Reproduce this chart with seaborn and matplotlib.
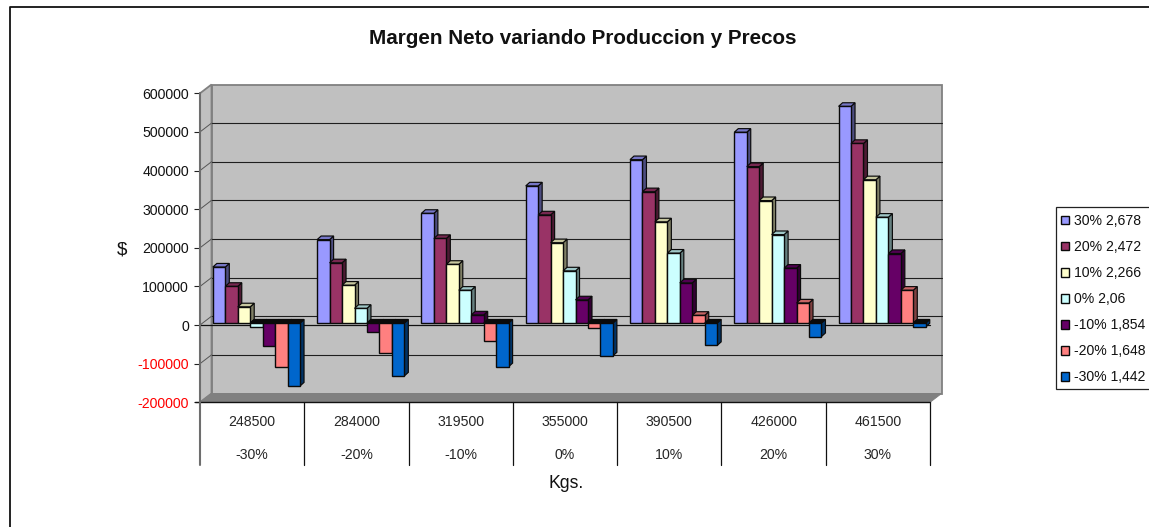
import matplotlib
matplotlib.use("Agg")
import matplotlib.pyplot as plt
from matplotlib.colors import to_rgb
from matplotlib.patches import Polygon, Rectangle
from matplotlib.lines import Line2D
import pandas as pd
import seaborn as sns

kgs = ["248500", "284000", "319500", "355000", "390500", "426000", "461500"]
prod_pct = ["-30%", "-20%", "-10%", "0%", "10%", "20%", "30%"]
precios = ["30% 2,678", "20% 2,472", "10% 2,266", "0% 2,06", "-10% 1,854", "-20% 1,648", "-30% 1,442"]

precio_p30 = [145000, 216000, 284000, 355000, 423000, 494000, 561000]
precio_p20 = [95000, 156000, 219000, 280000, 340000, 405000, 465000]
precio_p10 = [42000, 98000, 152000, 208000, 262000, 317000, 371000]
precio_0 = [-10000, 38000, 85000, 135000, 181000, 229000, 274000]
precio_m10 = [-60000, -22000, 21000, 60000, 104000, 142000, 180000]
precio_m20 = [-113000, -78000, -46000, -14000, 20000, 52000, 85000]
precio_m30 = [-163000, -137000, -113000, -85000, -58000, -35000, -10000]
series = [precio_p30, precio_p20, precio_p10, precio_0, precio_m10, precio_m20, precio_m30]

colores = ["#9999FF", "#993366", "#FFFFCC", "#CCFFFF", "#660066", "#FF8080", "#0066CC"]
y_ticks = [-200000, -100000, 0, 100000, 200000, 300000, 400000, 500000, 600000]

W, H = 1149, 527
sns.set_theme(style="white")
plt.rcParams["font.family"] = ["Liberation Sans", "DejaVu Sans"]
plt.rcParams["text.color"] = "#111111"

fig = plt.figure(figsize=(W / 100, H / 100), dpi=100, facecolor="white")


def P(x, y):
    """Pixel position (origin top-left) to figure fraction."""
    return (x / W, 1 - y / H)


def axes_px(left, top, right, bottom):
    return fig.add_axes([left / W, 1 - bottom / H, (right - left) / W, (bottom - top) / H])


# front plane of the 3-D box
L, R, T, B = 200.0, 930.0, 93.3, 402.3
WALL_DX, WALL_DY = 11.5, 8.8      # depth of the box
BAR_DX, BAR_DY = 4.3, 2.0         # bars stand a little inside the box
FACE_DX, FACE_DY = 4.0, 3.6       # depth of each bar

ax = axes_px(L, T, R, B)
ax.patch.set_visible(False)
ax.set_xlim(-0.5, 6.5)
ax.set_ylim(-200000, 600000)
y_px = lambda v: B - (v + 200000) / 800000 * (B - T)


def poly(pts, **kw):
    ax.add_patch(Polygon([P(*p) for p in pts], closed=True, transform=fig.transFigure,
                         clip_on=False, **kw))


def line(xs, ys, **kw):
    ax.add_line(Line2D([x / W for x in xs], [1 - y / H for y in ys], transform=fig.transFigure,
                       clip_on=False, **kw))


# outer frame: only top and left edges fall inside the canvas
line([9.5, 9.5, W], [H, 6.8, 6.8], color="#111111", lw=1.3, zorder=1)

# back wall, side wall and floor
poly([(L + WALL_DX, T - WALL_DY), (R + WALL_DX, T - WALL_DY), (R + WALL_DX, B - WALL_DY),
      (L + WALL_DX, B - WALL_DY)], fc="#C0C0C0", ec="#808080", lw=1.3, zorder=0.5)
poly([(L, T), (L + WALL_DX, T - WALL_DY), (L + WALL_DX, B - WALL_DY), (L, B)],
     fc="#C0C0C0", ec="#808080", lw=1.3, zorder=0.5)
poly([(L, B), (L + WALL_DX, B - WALL_DY), (R + WALL_DX, B - WALL_DY), (R, B)],
     fc="#808080", ec="#808080", lw=0.7, zorder=0.6)

# gridlines run across both walls
for v in y_ticks[1:-1]:
    y = y_px(v)
    line([L + WALL_DX, R + WALL_DX], [y - WALL_DY, y - WALL_DY], color="#1E1E1E", lw=0.8, zorder=0.7)
    line([L, L + WALL_DX], [y, y - WALL_DY], color="#555555", lw=0.7, zorder=0.7)

# zero line, base line and the two-row category table
line([L, R], [y_px(0), y_px(0)], color="#111111", lw=0.9, zorder=0.8)
line([L - 5, R], [B, B], color="#111111", lw=1.0, zorder=0.8)
line([L, L], [T, 465], color="#6E6E6E", lw=1.5, zorder=0.9)
for i in range(1, 8):
    x = L + (R - L) * i / 7
    line([x, x], [B, 465], color="#111111", lw=0.9, zorder=0.8)

# value axis
ax.set_yticks(y_ticks)
ax.set_yticklabels([str(v) for v in y_ticks], fontsize=10.2)
ax.tick_params(axis="y", length=4, width=0.8, color="#222222", pad=4, left=True)
for lbl, v in zip(ax.get_yticklabels(), y_ticks):
    lbl.set_color("#FF0000" if v < 0 else "#111111")
ax.set_xticks(range(7))
ax.set_xticklabels([f"{k}\n{p}" for k, p in zip(kgs, prod_pct)], fontsize=10.2, linespacing=2.68)
ax.tick_params(axis="x", length=0, pad=9.2)
for s in ax.spines.values():
    s.set_visible(False)

# the bars
df = pd.DataFrame({
    "Kgs": kgs * len(precios),
    "Precio": [p for p in precios for _ in kgs],
    "Margen": [v for s in series for v in s],
})
ax_b = axes_px(L + BAR_DX, T - BAR_DY, R + BAR_DX, B - BAR_DY)
ax_b.patch.set_visible(False)
sns.barplot(data=df, x="Kgs", y="Margen", hue="Precio", order=kgs, hue_order=precios,
            palette=colores, width=0.836, gap=0, saturation=1, errorbar=None,
            edgecolor="#0A0A0A", linewidth=1.0, ax=ax_b, legend=True)
ax_b.set_xlim(-0.5, 6.5)
ax_b.set_ylim(-200000, 600000)
ax_b.set_axis_off()

dx = FACE_DX * 7 / (R - L)
dy = FACE_DY * 800000 / (B - T)
for i, (cont, col) in enumerate(zip(ax_b.containers, colores)):
    base = to_rgb(col)
    side = tuple(c * 0.5 for c in base)
    top = tuple(c * 0.78 for c in base)
    for bar in cont:
        bar.set_zorder(3 + i)
        x0, w, h = bar.get_x(), bar.get_width(), bar.get_height()
        x1 = x0 + w
        y_hi = max(h, 0)
        y_lo = min(h, 0)
        kw = dict(ec="#0A0A0A", lw=0.85, zorder=2.9 + i, clip_on=False)
        ax_b.add_patch(Polygon([(x1, y_lo), (x1 + dx, y_lo + dy), (x1 + dx, y_hi + dy), (x1, y_hi)],
                               closed=True, fc=side, **kw))
        ax_b.add_patch(Polygon([(x0, y_hi), (x0 + dx, y_hi + dy), (x1 + dx, y_hi + dy), (x1, y_hi)],
                               closed=True, fc=top if h > 0 else "#0A0A0A", **kw))

# legend box, running off the right edge of the canvas
fig.add_artist(Rectangle(P(1055.7, 389), (W + 5 - 1055.7) / W, (389 - 206.7) / H,
                         transform=fig.transFigure, fc="white", ec="#222222", lw=0.9, zorder=1))
handles, labels = ax_b.get_legend_handles_labels()
ax_b.legend_.remove()
leg = fig.legend(handles, labels, loc="upper left", bbox_to_anchor=P(1060.5, 214),
                 bbox_transform=fig.transFigure, borderaxespad=0, borderpad=0, fontsize=10.1,
                 labelspacing=0.86, handlelength=0.58, handleheight=0.58, handletextpad=0.4,
                 frameon=False)
leg.set_zorder(2)
for t in leg.get_texts():
    t.set_color("#111111")

fig.text(*P(583, 39), "Margen Neto variando Produccion y Precos", ha="center", va="center",
         fontsize=14.85, fontweight="bold", color="#111111")
fig.text(*P(122, 250), "$", ha="center", va="center", fontsize=13.5, color="#111111")
fig.text(*P(566, 483), "Kgs.", ha="center", va="center", fontsize=12.7, color="#111111")

fig.savefig("out.png", dpi=100, facecolor="white")
